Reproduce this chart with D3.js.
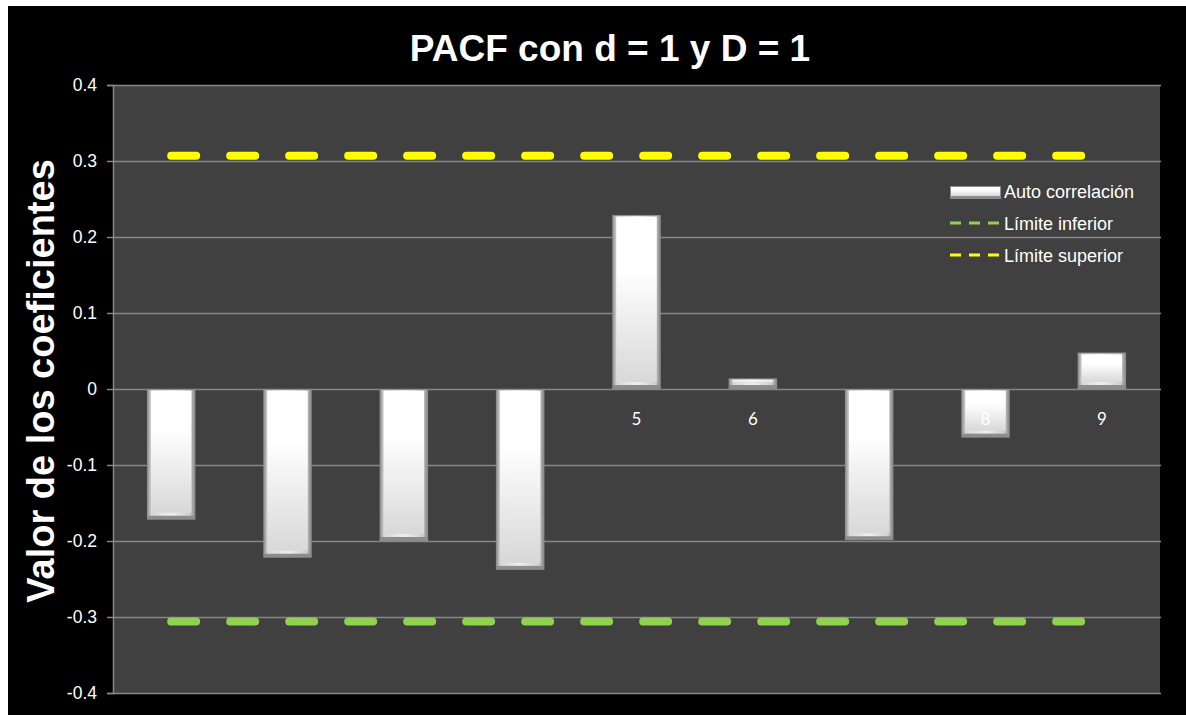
<!DOCTYPE html>
<html>
<head>
<meta charset="utf-8">
<script src="https://cdn.jsdelivr.net/npm/d3@7"></script>
<style>
  html, body { margin: 0; padding: 0; background: #ffffff; }
  svg { display: block; }
</style>
</head>
<body>
<svg id="chart" width="1186" height="715"></svg>
<script>
// ---- data ----
const categories = ["1", "2", "3", "4", "5", "6", "7", "8", "9"];
const autoCorrelacion = [-0.172, -0.222, -0.200, -0.238, 0.229, 0.014, -0.199, -0.064, 0.048];
const limiteInferior = [-0.306, -0.306, -0.306, -0.306, -0.306, -0.306, -0.306, -0.306, -0.306];
const limiteSuperior = [0.307, 0.307, 0.307, 0.307, 0.307, 0.307, 0.307, 0.307, 0.307];
const yTicks = [-0.4, -0.3, -0.2, -0.1, 0, 0.1, 0.2, 0.3, 0.4];
const yTickLabels = ["-0.4", "-0.3", "-0.2", "-0.1", "0", "0.1", "0.2", "0.3", "0.4"];
const titleText = "PACF con d = 1 y D = 1";
const yTitleText = "Valor de los coeficientes";
const legendLabels = ["Auto correlación", "Límite inferior", "Límite superior"];

// ---- layout ----
const svg = d3.select("#chart");
const plot = { left: 113, right: 1160, top: 85, bottom: 693 };
const font = "'Liberation Sans', Arial, sans-serif";

svg.append("rect").attr("x", 8).attr("y", 6).attr("width", 1178).attr("height", 709).attr("fill", "#000");

const x = d3.scaleBand().domain(categories).range([plot.left, plot.right])
  .paddingInner(0.583).paddingOuter(0.2915);
const y = d3.scaleLinear().domain([-0.4, 0.4]).range([plot.bottom, plot.top]);

// defs
const defs = svg.append("defs");
const gv = defs.append("linearGradient").attr("id", "barV").attr("x1", 0).attr("y1", 0).attr("x2", 0).attr("y2", 1);
gv.append("stop").attr("offset", "0%").attr("stop-color", "#ffffff");
gv.append("stop").attr("offset", "32%").attr("stop-color", "#ffffff");
gv.append("stop").attr("offset", "100%").attr("stop-color", "#d8d8d8");
const gh = defs.append("linearGradient").attr("id", "barH").attr("x1", 0).attr("y1", 0).attr("x2", 1).attr("y2", 0);
gh.append("stop").attr("offset", "0%").attr("stop-color", "#9a9a9a");
gh.append("stop").attr("offset", "8%").attr("stop-color", "#d8d8d8");
gh.append("stop").attr("offset", "50%").attr("stop-color", "#eeeeee");
gh.append("stop").attr("offset", "90%").attr("stop-color", "#cfcfcf");
gh.append("stop").attr("offset", "100%").attr("stop-color", "#8e8e8e");

// plot background
svg.append("rect").attr("x", plot.left).attr("y", plot.top)
  .attr("width", plot.right - plot.left).attr("height", plot.bottom - plot.top).attr("fill", "#404040");

// gridlines
svg.append("g").selectAll("line").data(yTicks).join("line")
  .attr("x1", plot.left).attr("x2", plot.right + 1)
  .attr("y1", d => Math.round(y(d)) + 0.5).attr("y2", d => Math.round(y(d)) + 0.5)
  .attr("stroke", "#868686").attr("stroke-width", 1.5);

// y axis
const yAxis = d3.axisLeft(y).tickValues(yTicks).tickSize(6).tickPadding(10)
  .tickFormat((d, i) => yTickLabels[i]);
const ya = svg.append("g").attr("transform", `translate(${plot.left},0)`).call(yAxis);
ya.select(".domain").attr("stroke", "#868686").attr("stroke-width", 1.5);
ya.selectAll(".tick line").attr("stroke", "#868686").attr("stroke-width", 1.5);
ya.selectAll(".tick text").attr("fill", "#ffffff").attr("font-family", font).attr("font-size", 17.5);

// bars
const bars = svg.append("g");
categories.forEach((c, i) => {
  const v = autoCorrelacion[i];
  const x0 = x(c), w = x.bandwidth();
  const yTop = Math.min(y(v), y(0)), yBot = Math.max(y(v), y(0));
  const h = yBot - yTop;
  const g = bars.append("g");
  g.append("rect").attr("x", x0).attr("y", yTop).attr("width", w).attr("height", h).attr("fill", "#8c8c8c");
  g.append("rect").attr("x", x0 + 1).attr("y", yTop + 1).attr("width", w - 2).attr("height", Math.max(0, h - 5)).attr("fill", "url(#barH)");
  g.append("rect").attr("x", x0 + 4).attr("y", yTop + 2).attr("width", w - 8).attr("height", Math.max(0, h - 9)).attr("fill", "url(#barV)");
});

// limit lines
const line = d3.line().x((d, i) => x(categories[i]) + x.bandwidth() / 2).y(d => y(d));
svg.append("path").datum(limiteInferior).attr("d", line).attr("fill", "none")
  .attr("stroke", "#92d050").attr("stroke-width", 8).attr("stroke-linecap", "round").attr("stroke-dasharray", "25 34");
svg.append("path").datum(limiteSuperior).attr("d", line).attr("fill", "none")
  .attr("stroke", "#ffff00").attr("stroke-width", 8).attr("stroke-linecap", "round").attr("stroke-dasharray", "25 34");

// category labels
svg.append("g").selectAll("text").data(categories).join("text")
  .attr("x", d => x(d) + x.bandwidth() / 2).attr("y", y(0) + 36)
  .attr("text-anchor", "middle").attr("fill", "#ffffff")
  .attr("font-family", "Lato, 'Open Sans', sans-serif").attr("font-size", 17)
  .text(d => d);

// title
svg.append("text").attr("x", 610).attr("y", 61).attr("text-anchor", "middle")
  .attr("fill", "#fff").attr("font-family", font).attr("font-weight", "bold").attr("font-size", 37)
  .text(titleText);

// y title
svg.append("text").attr("transform", "translate(54,381) rotate(-90)").attr("text-anchor", "middle")
  .attr("fill", "#fff").attr("font-family", font).attr("font-weight", "bold").attr("font-size", 38)
  .text(yTitleText);

// legend
const lg = svg.append("g");
const lx = 950, lw = 51, rows = [192, 224, 256];
lg.append("rect").attr("x", lx).attr("y", rows[0] - 6).attr("width", lw).attr("height", 13).attr("fill", "#8c8c8c");
lg.append("rect").attr("x", lx + 1).attr("y", rows[0] - 5).attr("width", lw - 2).attr("height", 9).attr("fill", "url(#barV)");
lg.append("line").attr("x1", lx).attr("x2", lx + lw).attr("y1", rows[1] - 1).attr("y2", rows[1] - 1)
  .attr("stroke", "#92d050").attr("stroke-width", 3).attr("stroke-dasharray", "11 8");
lg.append("line").attr("x1", lx).attr("x2", lx + lw).attr("y1", rows[2] - 1).attr("y2", rows[2] - 1)
  .attr("stroke", "#ffff00").attr("stroke-width", 3).attr("stroke-dasharray", "11 8");
lg.selectAll("text.leg").data(legendLabels).join("text").attr("class", "leg")
  .attr("x", 1004).attr("y", (d, i) => rows[i] + 6)
  .attr("fill", "#fff").attr("font-family", font).attr("font-size", 18)
  .text(d => d);
</script>
</body>
</html>
